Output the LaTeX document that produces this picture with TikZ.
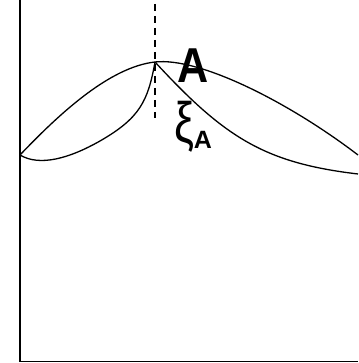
\documentclass[tikz,border=0pt]{standalone}
\usepackage{fontspec}
\usepackage{graphicx}
\setmainfont{Liberation Sans}
\usetikzlibrary{positioning}

\begin{document}
\begin{tikzpicture}[
    x=1pt, y=1pt,
    axisline/.style={draw=black, line width=1.6pt},
    curve/.style={draw=black, line width=1.3pt},
    guide/.style={draw=black, line width=1.2pt, dash pattern=on 7pt off 5pt},
    bigletter/.style={font=\fontsize{49}{49}\selectfont\bfseries, inner sep=0pt, anchor=base},
    greek/.style={font=\fontsize{57}{57}\selectfont, inner sep=0pt, anchor=base},
    sublbl/.style={font=\fontsize{25}{25}\selectfont\bfseries, inner sep=0pt, anchor=base}
]
    \useasboundingbox (0,0) rectangle (358,363);

    % axes
    \coordinate (top) at (20,363);
    \coordinate (origin) at (20,1.5);
    \coordinate (xend) at (358,1.5);
    \draw[axisline] (top) -- (origin) -- (xend);

    % key points
    \coordinate (L) at (20,208);
    \coordinate (A) at (155,301);
    \coordinate (R1) at (358,208);
    \coordinate (R2) at (358,189);
    \coordinate (gtop) at (155,359);
    \coordinate (gbot) at (155,245);

    % vertical guide through A
    \draw[guide] (gtop) -- (gbot);

    % upper curve
    \draw[curve] (L) .. controls (60,250) and (110,296) .. (A)
        .. controls (200,306) and (290,260) .. (R1);
    % lower curves
    \draw[curve] (L) .. controls (40,196) and (70,205) .. (100,222)
        .. controls (140,245) and (148,262) .. (A);
    \draw[curve] (A) .. controls (225,225) and (265,200) .. (R2);

    % labels
    \node[bigletter] (lblA) at (193,280) {\scalebox{0.88}[1]{A}};
    \node[greek] (xi) at (184,220) {\scalebox{0.78}[1]{ξ}};
    \node[sublbl] (xisub) at (203,214) {A};
\end{tikzpicture}
\end{document}
